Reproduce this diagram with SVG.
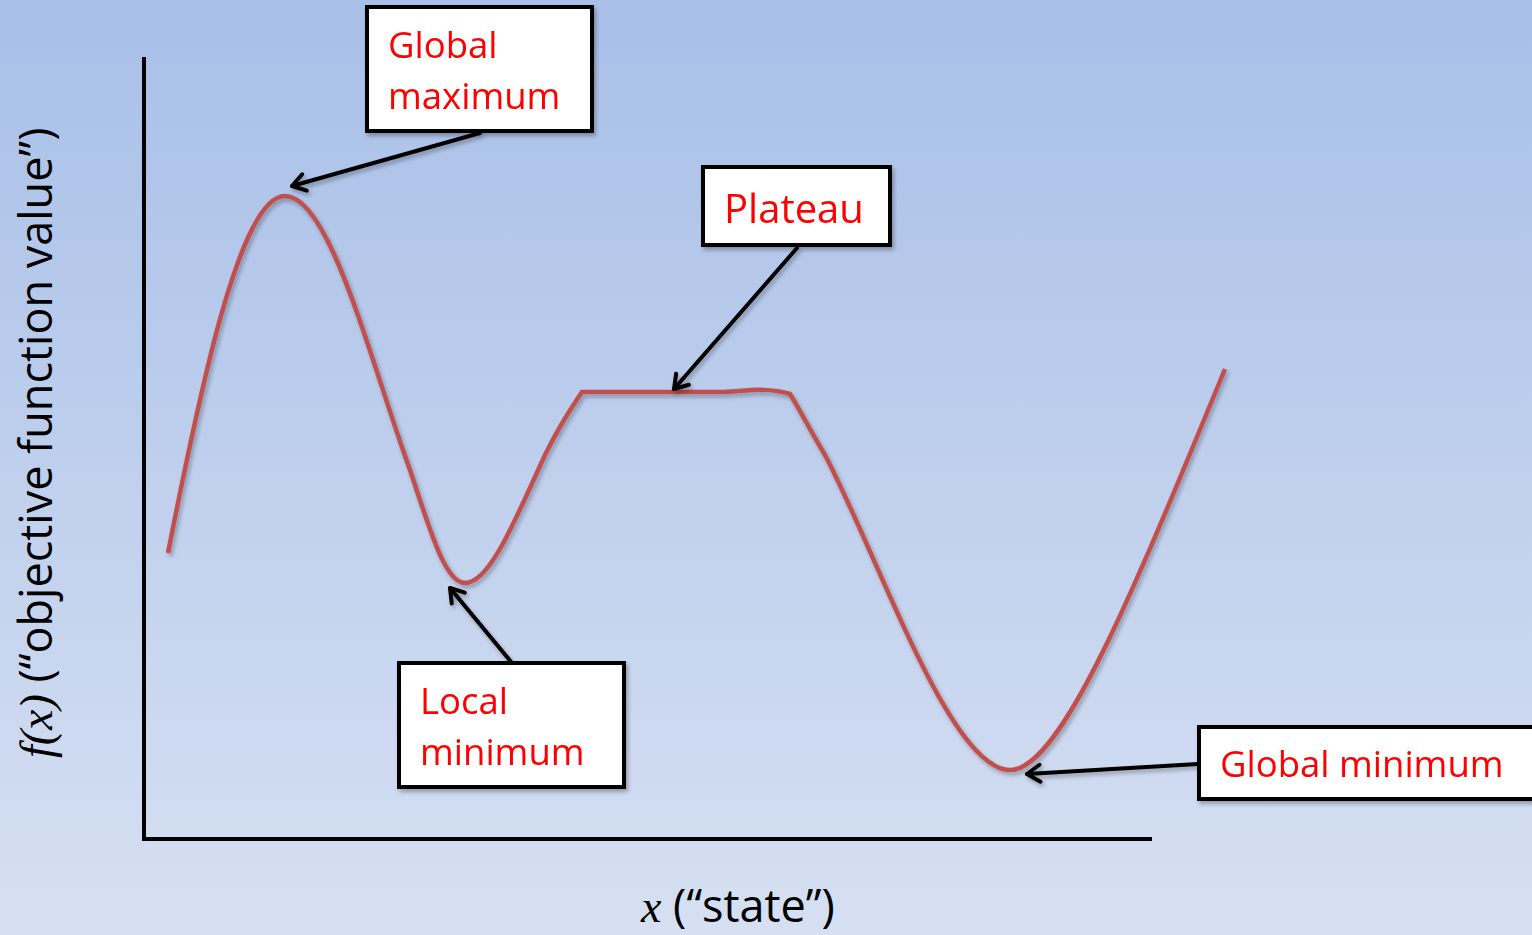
<svg xmlns="http://www.w3.org/2000/svg" width="1532" height="935" viewBox="0 0 1532 935">
<defs>
<linearGradient id="bg" x1="0" y1="0" x2="0" y2="1">
<stop offset="0" stop-color="#a8bfe8"/>
<stop offset="1" stop-color="#d6e0f2"/>
</linearGradient>
<filter id="sh" x="-10%" y="-10%" width="130%" height="140%">
<feGaussianBlur in="SourceAlpha" stdDeviation="2"/>
<feOffset dx="2" dy="3" result="b"/>
<feComponentTransfer><feFuncA type="linear" slope="0.3"/></feComponentTransfer>
<feMerge><feMergeNode/><feMergeNode in="SourceGraphic"/></feMerge>
</filter>
<marker id="ah" markerWidth="20" markerHeight="22" viewBox="-17 -11 20 22" refX="0" refY="0" orient="auto" markerUnits="userSpaceOnUse">
<polyline points="-13,-8.5 0,0 -13,8.5" fill="none" stroke="#000" stroke-width="4" stroke-linecap="round" stroke-linejoin="round"/>
</marker>
</defs>
<style>
.box{fill:#fff;stroke:#000;stroke-width:4}
.lbl{font-family:"Open Sans","Liberation Sans",sans-serif;font-size:36.5px;fill:#ff0000}
.conn{stroke:#000;stroke-width:4;fill:none;stroke-linecap:round}
.axis{stroke:#000;stroke-width:4;fill:none}
.ax{font-family:"Open Sans","Liberation Sans",sans-serif;font-size:45px;fill:#000}
.it{font-family:"Liberation Serif",serif;font-style:italic;font-size:46px}
</style>
<rect width="1532" height="935" fill="url(#bg)"/>
<g id="axes">
<line class="axis" x1="144" y1="57" x2="144" y2="841"/>
<line class="axis" x1="142" y1="839" x2="1152" y2="839"/>
</g>
<g id="curve">
<path d="M168,553 C200,390 240,196 285,196 C330,196 370,360 410,470 C430,530 445,583 465,583 C490,583 515,520 545,455 C560,425 570,410 582,392 L720,392 C740,392 765,386 790,394 C800,410 810,430 825,455 C880,560 950,770 1010,770 C1060,770 1130,600 1225,369" fill="none" stroke="#c0504d" stroke-width="4.5" filter="url(#sh)"/>
</g>
<g id="connectors" filter="url(#sh)">
<line class="conn" x1="480" y1="133" x2="292" y2="186" marker-end="url(#ah)"/>
<line class="conn" x1="797" y1="248" x2="674" y2="389" marker-end="url(#ah)"/>
<line class="conn" x1="512" y1="663" x2="450" y2="588" marker-end="url(#ah)"/>
<line class="conn" x1="1198" y1="764" x2="1027" y2="774" marker-end="url(#ah)"/>
</g>
<g id="global-maximum" filter="url(#sh)">
<rect class="box" x="367" y="7" width="225" height="124"/>
<text class="lbl" x="388" y="58">Global</text>
<text class="lbl" x="388" y="109">maximum</text>
</g>
<g id="plateau" filter="url(#sh)">
<rect class="box" x="703" y="167" width="187" height="78"/>
<text class="lbl" x="724" y="223" style="font-size:40px">Plateau</text>
</g>
<g id="local-minimum" filter="url(#sh)">
<rect class="box" x="399" y="663" width="225" height="124"/>
<text class="lbl" x="420" y="714">Local</text>
<text class="lbl" x="420" y="765">minimum</text>
</g>
<g id="global-minimum" filter="url(#sh)">
<rect class="box" x="1199" y="727" width="345" height="72"/>
<text class="lbl" x="1220" y="777">Global minimum</text>
</g>
<g id="y-label">
<text class="ax" transform="translate(52,758) rotate(-90)"><tspan class="it">f</tspan><tspan class="it">(x)</tspan> (“objective function value”)</text>
</g>
<g id="x-label">
<text class="ax" x="641" y="922"><tspan class="it">x</tspan> (“state”)</text>
</g>
</svg>
